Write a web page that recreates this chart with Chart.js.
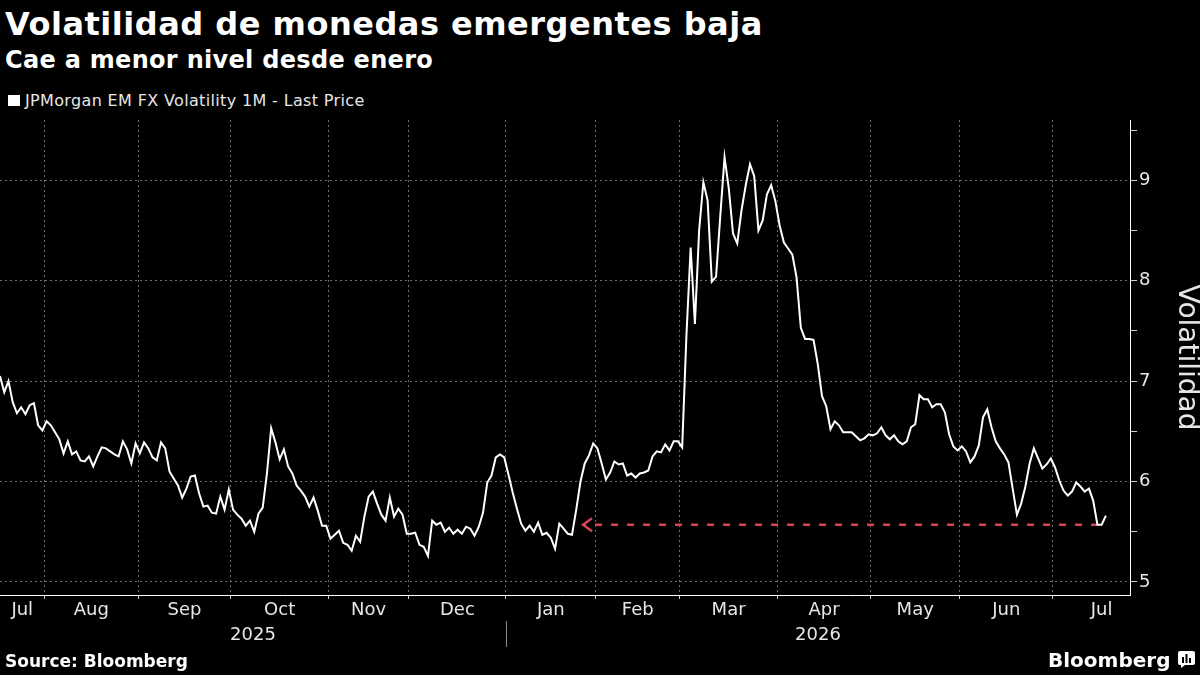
<!DOCTYPE html>
<html>
<head>
<meta charset="utf-8">
<script src="https://cdn.jsdelivr.net/npm/chart.js@4.4.1/dist/chart.umd.min.js"></script>
<style>
  body { margin:0; background:#000; width:1200px; height:675px; overflow:hidden; position:relative; font-family:'DejaVu Sans', sans-serif; color:#fff; }
  .txt { position:absolute; white-space:nowrap; }
  #title { left:5px; top:8px; font-size:32px; line-height:32px; font-weight:bold; letter-spacing:0.5px; }
  #subtitle { left:5px; top:48px; font-size:24px; line-height:24px; font-weight:bold; letter-spacing:0.3px; }
  #legendBox { position:absolute; left:8px; top:95px; width:12px; height:11px; background:#fff; }
  #legend { left:25px; top:93px; font-size:16px; line-height:16px; color:#e6e6e6; letter-spacing:0.35px; }
  #source { left:5px; top:653px; font-size:17px; line-height:17px; font-weight:bold; }
  #brand { left:1048px; top:650px; font-size:20px; line-height:20px; font-weight:bold; }
  #brandIcon { position:absolute; left:1177px; top:650px; }
  canvas { position:absolute; left:0; top:0; }
</style>
</head>
<body>
<div class="txt" id="title">Volatilidad de monedas emergentes baja</div>
<div class="txt" id="subtitle">Cae a menor nivel desde enero</div>
<div id="legendBox"></div>
<div class="txt" id="legend">JPMorgan EM FX Volatility 1M - Last Price</div>
<canvas id="chart" width="1200" height="675"></canvas>
<div class="txt" id="source">Source: Bloomberg</div>
<div class="txt" id="brand">Bloomberg</div>
<svg id="brandIcon" width="19" height="19" viewBox="0 0 19 19">
  <path d="M3 1h13a2 2 0 0 1 2 2v10a2 2 0 0 1-2 2H8l-4 3v-3H3a2 2 0 0 1-2-2V3a2 2 0 0 1 2-2z" fill="#fff"/>
  <rect x="5" y="7" width="2" height="6" fill="#000"/>
  <rect x="8.5" y="4" width="2" height="9" fill="#000"/>
  <rect x="12" y="8" width="2" height="5" fill="#000"/>
</svg>
<script>
// JPMorgan EM FX Volatility 1M, one value per trading day (Jul 2025 - Jul 2026)
const values = [
  7.05, 6.89, 7.00, 6.79, 6.68, 6.74, 6.67, 6.76, 6.78, 6.56,
  6.51, 6.60, 6.56, 6.49, 6.42, 6.28, 6.40, 6.27, 6.30, 6.21,
  6.20, 6.25, 6.15, 6.25, 6.34, 6.33, 6.30, 6.27, 6.25, 6.40,
  6.32, 6.18, 6.38, 6.28, 6.39, 6.33, 6.24, 6.21, 6.39, 6.33,
  6.10, 6.03, 5.96, 5.84, 5.93, 6.05, 6.06, 5.88, 5.75, 5.76,
  5.69, 5.68, 5.85, 5.72, 5.92, 5.72, 5.67, 5.63, 5.56, 5.61,
  5.50, 5.68, 5.74, 6.08, 6.53, 6.39, 6.22, 6.32, 6.15, 6.08,
  5.96, 5.91, 5.85, 5.75, 5.84, 5.71, 5.56, 5.56, 5.43, 5.47,
  5.51, 5.39, 5.37, 5.31, 5.46, 5.40, 5.65, 5.85, 5.90, 5.78,
  5.67, 5.61, 5.84, 5.65, 5.73, 5.67, 5.48, 5.48, 5.49, 5.37,
  5.35, 5.26, 5.61, 5.57, 5.59, 5.50, 5.54, 5.48, 5.52, 5.48,
  5.55, 5.53, 5.46, 5.55, 5.69, 5.99, 6.06, 6.24, 6.27, 6.24,
  6.07, 5.89, 5.73, 5.58, 5.51, 5.56, 5.50, 5.59, 5.47, 5.49,
  5.44, 5.33, 5.58, 5.53, 5.48, 5.47, 5.72, 6.00, 6.18, 6.26,
  6.38, 6.33, 6.18, 6.02, 6.09, 6.20, 6.17, 6.18, 6.06, 6.08,
  6.04, 6.08, 6.09, 6.11, 6.25, 6.30, 6.29, 6.37, 6.31, 6.40,
  6.40, 6.34, 7.45, 8.33, 7.57, 8.50, 8.98, 8.80, 7.99, 8.04,
  8.65, 9.23, 8.92, 8.47, 8.37, 8.70, 8.95, 9.16, 9.04, 8.50,
  8.60, 8.86, 8.95, 8.79, 8.55, 8.38, 8.32, 8.26, 8.03, 7.53,
  7.42, 7.42, 7.41, 7.17, 6.85, 6.75, 6.52, 6.60, 6.56, 6.49,
  6.49, 6.49, 6.45, 6.41, 6.43, 6.47, 6.46, 6.48, 6.54, 6.46,
  6.42, 6.46, 6.40, 6.37, 6.40, 6.54, 6.57, 6.86, 6.82, 6.82,
  6.74, 6.77, 6.77, 6.69, 6.47, 6.35, 6.31, 6.35, 6.30, 6.19,
  6.25, 6.36, 6.64, 6.72, 6.54, 6.40, 6.33, 6.27, 6.19, 5.93,
  5.67, 5.78, 5.95, 6.18, 6.33, 6.23, 6.13, 6.17, 6.23, 6.14,
  6.01, 5.91, 5.86, 5.90, 5.99, 5.95, 5.90, 5.93, 5.81, 5.57,
  5.57, 5.66
];

// trading-day index where each month begins (Aug 2025 ... Jul 2026)
const monthStarts = [10.5, 32.6, 54.5, 77.5, 96.5, 119.4, 140.6, 160.4, 183.5, 205.5, 226.5, 248.5];
const monthNames = ['Jul', 'Aug', 'Sep', 'Oct', 'Nov', 'Dec', 'Jan', 'Feb', 'Mar', 'Apr', 'May', 'Jun', 'Jul'];
const years = ['2025', '2026'];
const yearBreak = 119.4;
const yTicks = [5, 5.5, 6, 6.5, 7, 7.5, 8, 8.5, 9, 9.5];
const xMax = 266.7;

// dashed reference back to the January low
const refLevel = 5.57;
const refFrom = 137.6;
const refTo = 259;

const gridCol = '#6e6e6e';
const textCol = '#e6e6e6';
const refCol = '#d9415a';

const monthMids = monthNames.map((m, i) => {
  const a = i === 0 ? 0 : monthStarts[i - 1];
  const b = i < monthStarts.length ? monthStarts[i] : monthStarts[i - 1] + 23;
  return (a + b) / 2;
});
const yearMids = [yearBreak / 2, (yearBreak + xMax) / 2];

const extras = {
  id: 'extras',
  afterDatasetsDraw(chart) {
    const ctx = chart.ctx;
    const p = chart.getDatasetMeta(1).data[0];
    ctx.save();
    ctx.strokeStyle = refCol;
    ctx.lineWidth = 2.5;
    ctx.beginPath();
    ctx.moveTo(p.x + 9, p.y - 6.5);
    ctx.lineTo(p.x, p.y);
    ctx.lineTo(p.x + 9, p.y + 6.5);
    ctx.stroke();
    ctx.restore();
  },
  afterDraw(chart) {
    const s = chart.scales.xy;
    const x = Math.round(s.getPixelForValue(yearBreak)) + 0.5;
    const ctx = chart.ctx;
    ctx.save();
    ctx.strokeStyle = '#8a8a8a';
    ctx.lineWidth = 1;
    ctx.beginPath();
    ctx.moveTo(x, s.top - 2);
    ctx.lineTo(x, s.top + 24);
    ctx.stroke();
    ctx.restore();
  }
};

Chart.defaults.font.family = "'DejaVu Sans', sans-serif";

const chart = new Chart(document.getElementById('chart'), {
  type: 'line',
  data: {
    datasets: [{
      label: 'JPMorgan EM FX Volatility 1M - Last Price',
      data: values.map((v, i) => ({ x: i, y: v })),
      borderColor: '#fff',
      borderWidth: 2,
      pointRadius: 0,
      tension: 0,
      xAxisID: 'x',
      yAxisID: 'y'
    }, {
      label: 'ref',
      data: [{ x: refFrom, y: refLevel }, { x: refTo, y: refLevel }],
      borderColor: refCol,
      borderWidth: 2.5,
      borderDash: [7, 9],
      borderDashOffset: 4,
      pointRadius: 0,
      xAxisID: 'x',
      yAxisID: 'y'
    }]
  },
  options: {
    responsive: false,
    animation: false,
    layout: { padding: { left: 0, right: 0, top: 120, bottom: 22 } },
    plugins: {
      legend: { display: false },
      tooltip: { enabled: false }
    },
    scales: {
      x: {
        type: 'linear',
        position: 'bottom',
        weight: 0,
        min: 0,
        max: xMax,
        afterBuildTicks: s => { s.ticks = monthStarts.map(v => ({ value: v })); },
        afterFit: s => { s.height = 4; },
        ticks: { display: false },
        grid: { color: gridCol, tickColor: '#cfcfcf', tickLength: 4, tickBorderDash: [] },
        border: { color: '#fff', width: 1, dash: [2, 3] }
      },
      xm: {
        type: 'linear',
        position: 'bottom',
        weight: 1,
        min: 0,
        max: xMax,
        afterBuildTicks: s => { s.ticks = monthMids.map(v => ({ value: v })); },
        afterFit: s => { s.height = 24; },
        ticks: {
          callback: (v, i) => monthNames[i],
          color: textCol,
          font: { size: 18, lineHeight: 1 },
          padding: -6,
          maxRotation: 0,
          autoSkip: false
        },
        grid: { display: false },
        border: { display: false }
      },
      xy: {
        type: 'linear',
        position: 'bottom',
        weight: 2,
        min: 0,
        max: xMax,
        afterBuildTicks: s => { s.ticks = yearMids.map(v => ({ value: v })); },
        afterFit: s => { s.height = 30; },
        ticks: {
          callback: (v, i) => years[i],
          color: textCol,
          font: { size: 18, lineHeight: 1 },
          padding: -5,
          maxRotation: 0,
          autoSkip: false
        },
        grid: { display: false },
        border: { display: false }
      },
      y: {
        type: 'linear',
        position: 'right',
        min: 4.87,
        max: 9.6,
        afterBuildTicks: s => { s.ticks = yTicks.map(v => ({ value: v })); },
        ticks: {
          callback: v => Number.isInteger(v) ? String(v) : '',
          color: textCol,
          font: { size: 18, lineHeight: 1 },
          padding: 2
        },
        grid: {
          color: c => (c.tick && Number.isInteger(c.tick.value)) ? gridCol : 'rgba(0,0,0,0)',
          tickColor: '#cfcfcf',
          tickLength: 7,
          tickBorderDash: []
        },
        border: { color: '#fff', width: 1, dash: [2, 3] },
        title: {
          display: true,
          text: 'Volatilidad',
          color: textCol,
          font: { size: 28, lineHeight: 1 },
          padding: { top: 0, bottom: 19.5 }
        }
      }
    }
  },
  plugins: [extras]
});
</script>
</body>
</html>
